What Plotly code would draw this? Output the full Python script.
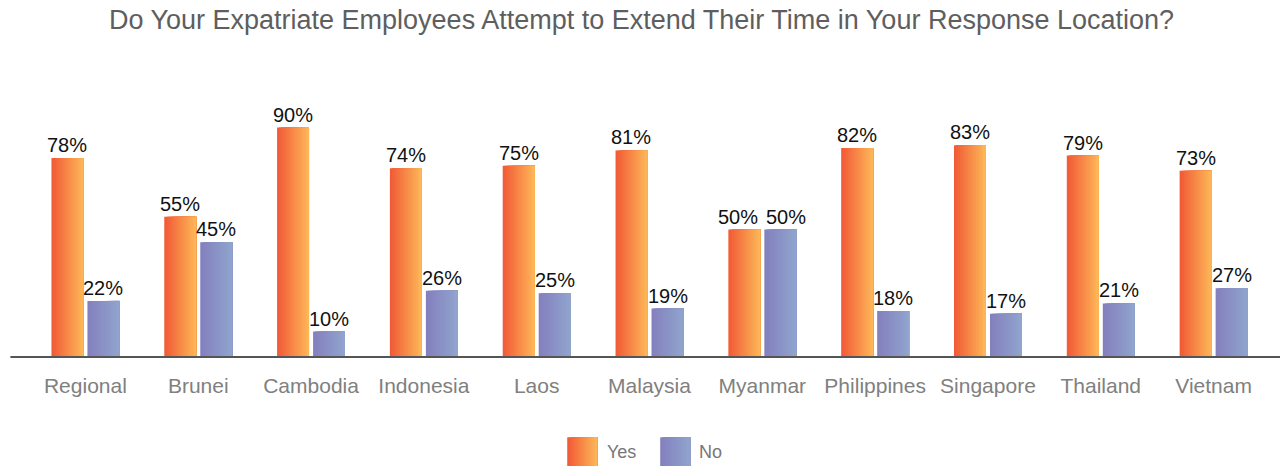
import plotly.graph_objects as go

categories = ["Regional", "Brunei", "Cambodia", "Indonesia", "Laos", "Malaysia",
              "Myanmar", "Philippines", "Singapore", "Thailand", "Vietnam"]
yes_values = [78, 55, 90, 74, 75, 81, 50, 82, 83, 79, 73]
no_values = [22, 45, 10, 26, 25, 19, 50, 18, 17, 21, 27]
series_names = ["Yes", "No"]

W, H = 1283, 466
MARGIN = dict(l=28.6, r=13, t=101.7, b=109.3)
PLOT_W = W - MARGIN["l"] - MARGIN["r"]
PLOT_H = H - MARGIN["t"] - MARGIN["b"]
CAT_PX = PLOT_W / len(categories)
FONT = "Liberation Sans, Arial, sans-serif"

# left -> right gradient stops for each series
GRADIENTS = {
    "Yes": ((241, 88, 54), (253, 184, 88)),
    "No": ((132, 127, 190), (144, 165, 205)),
}
N_STRIPS = 16
BAR_W = 0.283
OFFSETS = {"Yes": -0.301, "No": 0.018}
# labels of equal-height neighbours are nudged apart so they do not collide
LABEL_NUDGE = {"Yes": -6, "No": 6}


def mix(c0, c1, t):
    return "rgb(%d,%d,%d)" % tuple(round(a + (b - a) * t) for a, b in zip(c0, c1))


def px_x(px):
    return (px - MARGIN["l"]) / PLOT_W


def px_y(py):
    return (H - MARGIN["b"] - py) / PLOT_H


fig = go.Figure()
annotations = []

series_values = dict(zip(series_names, [yes_values, no_values]))
for name in series_names:
    values = series_values[name]
    c0, c1 = GRADIENTS[name]
    strip_w = BAR_W / N_STRIPS
    # each strip runs to the bar's right edge, so later strips cover earlier ones
    for k in range(N_STRIPS):
        fig.add_trace(go.Bar(
            x=categories, y=values, name=name if k == 0 else None,
            offset=OFFSETS[name] + k * strip_w,
            width=BAR_W - k * strip_w,
            marker=dict(color=mix(c0, c1, (k + 0.5) / N_STRIPS), line=dict(width=0)),
            showlegend=False, hoverinfo="skip",
        ))
    # value labels centred above each bar
    centre_px = (OFFSETS[name] + BAR_W / 2) * CAT_PX
    other = series_values["No" if name == "Yes" else "Yes"]
    for cat, v, o in zip(categories, values, other):
        nudge = LABEL_NUDGE[name] if abs(v - o) < 6 else 0
        annotations.append(dict(
            text=f"{v}%", x=cat, y=v, xref="x", yref="y",
            xshift=centre_px + nudge, yshift=0,
            xanchor="center", yanchor="bottom", showarrow=False,
            font=dict(family=FONT, size=20, color="#111111"),
        ))

shapes = [dict(type="line", xref="paper", yref="paper",
               x0=px_x(10), x1=px_x(1280), y0=0, y1=0,
               line=dict(color="#555555", width=2))]

# legend: gradient swatches with labels
legend_items = [("Yes", 567, 605), ("No", 660, 697)]
for name, sx, tx in legend_items:
    c0, c1 = GRADIENTS[name]
    sw = 30 / N_STRIPS
    for k in range(N_STRIPS):
        shapes.append(dict(
            type="rect", xref="paper", yref="paper",
            x0=px_x(sx + k * sw), x1=px_x(sx + 30),
            y0=px_y(467), y1=px_y(437),
            fillcolor=mix(c0, c1, (k + 0.5) / N_STRIPS), line=dict(width=0), layer="above",
        ))
    annotations.append(dict(
        text=name, xref="paper", yref="paper", x=px_x(tx), y=px_y(452),
        xanchor="left", yanchor="middle", showarrow=False,
        font=dict(family=FONT, size=18, color="#777777"),
    ))

fig.update_layout(
    width=W, height=H, margin=MARGIN,
    paper_bgcolor="white", plot_bgcolor="white",
    barmode="overlay", showlegend=False,
    title=dict(
        text="Do Your Expatriate Employees Attempt to Extend Their Time in Your Response Location?",
        x=0.5, xanchor="center", xref="container",
        y=1 - 19.5 / H, yanchor="middle", yref="container",
        font=dict(family=FONT, size=27, color="#5e5e5e"),
    ),
    xaxis=dict(
        showgrid=False, zeroline=False, showline=False, ticks="",
        ticklabelstandoff=14,
        tickfont=dict(family=FONT, size=21, color="#808080"),
    ),
    yaxis=dict(range=[0, 100], visible=False, showgrid=False, zeroline=False),
    shapes=shapes,
    annotations=annotations,
)

fig.write_html("out.html")
